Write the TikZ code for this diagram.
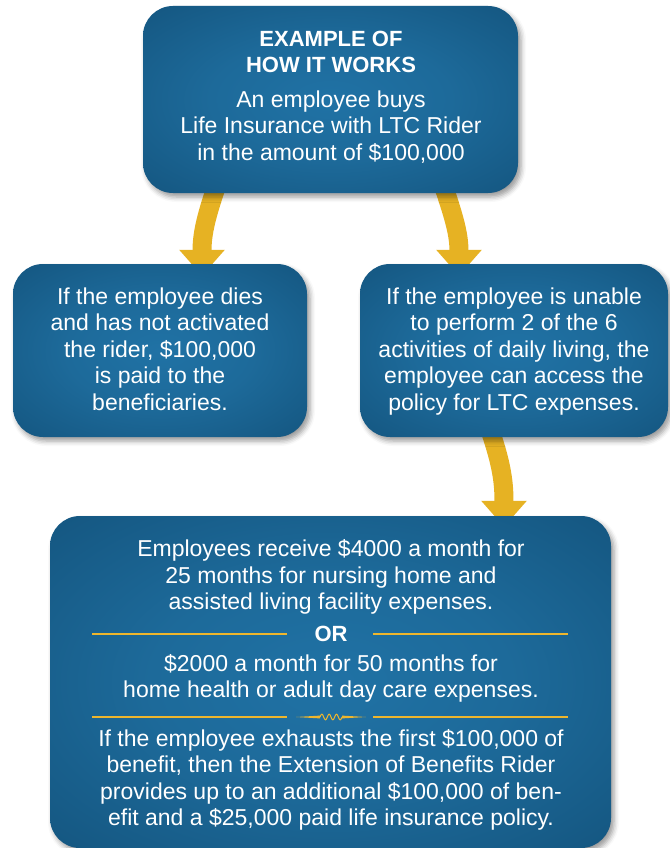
\documentclass[tikz,border=0pt]{standalone}
\usepackage{fontspec}
\setmainfont{Liberation Sans}
\usetikzlibrary{arrows.meta,shadows.blur,backgrounds}
\definecolor{gold}{RGB}{230,178,35}
\definecolor{rulegold}{RGB}{238,182,45}
\pgfdeclareradialshading{boxshade}{\pgfpoint{0bp}{0bp}}{rgb(0bp)=(0.125,0.447,0.647); rgb(16bp)=(0.114,0.416,0.604); rgb(50bp)=(0.055,0.282,0.431); rgb(100bp)=(0.050,0.270,0.415)}
\begin{document}
\begin{tikzpicture}[x=1pt,y=-1pt,
  box/.style={rectangle, rounded corners=30pt, shading=boxshade, inner sep=0pt,
    blur shadow={shadow xshift=3pt, shadow yshift=-4pt, shadow blur radius=5pt, shadow opacity=40}},
  txt/.style={text=white, align=center, inner sep=0pt, font=\fontsize{23}{26.5}\selectfont,
    execute at begin node=\strut, execute at end node=\strut},
  hd/.style={txt, font=\fontsize{22}{26.5}\selectfont\bfseries},
  flow/.style={draw=gold, line width=19pt, -{Triangle[width=44pt,length=26pt]}},
  divider/.style={draw=rulegold, line width=1.5pt}]
\useasboundingbox (0,0) rectangle (669,848);

% boxes
\node[box, minimum width=375pt, minimum height=187pt] (top) at (330.5,99.5) {};
\node[box, minimum width=294pt, minimum height=173pt] (left) at (160,350.5) {};
\node[box, minimum width=308pt, minimum height=173pt] (right) at (514,350.5) {};
\node[box, minimum width=561pt, minimum height=332pt] (bottom) at (330.5,682) {};

% arrows behind boxes
\begin{pgfonlayer}{background}
\draw[flow] ([shift={(74,-8)}]top.south west) .. controls +(-12,35) and +(0,-40) .. ([shift={(42,12)}]left.north);
\draw[flow] ([shift={(-75,-8)}]top.south east) .. controls +(12,35) and +(0,-40) .. ([shift={(-55,12)}]right.north);
\draw[flow] ([shift={(-24,-7)}]right.south) .. controls +(12,35) and +(0,-44) .. ([shift={(173.5,11)}]bottom.north);
\end{pgfonlayer}

% texts
\node[hd] (title) at (331,56) {EXAMPLE OF\\HOW IT WORKS};
\node[txt] (buy) at (331,129.5) {An employee buys\\Life Insurance with LTC Rider\\in the amount of \$100,000};
\node[txt] (dies) at (160,353) {If the employee dies\\and has not activated\\the rider, \$100,000\\is paid to the\\beneficiaries.};
\node[txt] (unable) at (514,353) {If the employee is unable\\to perform 2 of the 6\\activities of daily living, the\\employee can access the\\policy for LTC expenses.};
\node[txt] (p1) at (331,578.5) {Employees receive \$4000 a month for\\25 months for nursing home and\\assisted living facility expenses.};
\node[hd] (or) at (331,636) {OR};
\node[txt] (p2) at (331,680) {\$2000 a month for 50 months for\\home health or adult day care expenses.};
\node[txt] (p3) at (331,781.5) {If the employee exhausts the first \$100,000 of\\benefit, then the Extension of Benefits Rider\\provides up to an additional \$100,000 of ben-\\efit and a \$25,000 paid life insurance policy.};

% dividers
\draw[divider] (92,634) -- (287,634);
\draw[divider] (373,634) -- (568,634);
\draw[divider] (92,717) -- (287,717);
\draw[divider] (373,717) -- (568,717);
% ornament
\fill[rulegold] (296,717) -- (320,715.6) -- (320,718.4) -- cycle;
\fill[rulegold] (366,717) -- (342,715.6) -- (342,718.4) -- cycle;
\draw[rulegold, line width=1pt] plot[domain=0:22, samples=80, smooth] ({320+\x},{717-2.8*sin(\x*49.09)});
\end{tikzpicture}
\end{document}
